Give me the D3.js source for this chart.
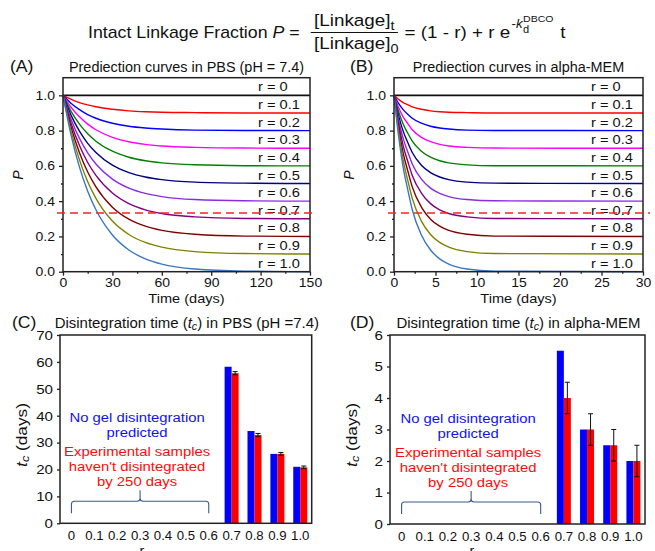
<!DOCTYPE html>
<html>
<head>
<meta charset="utf-8">
<script src="https://cdn.jsdelivr.net/npm/d3@7"></script>
<style>
  body { margin: 0; background: #fff; }
  svg { display: block; }
  text { font-family: "Liberation Sans", Arial, sans-serif; }
</style>
</head>
<body>
<div id="chart"></div>
<script>
// ---- data ----
var rLabels = ["r = 0", "r = 0.1", "r = 0.2", "r = 0.3", "r = 0.4", "r = 0.5",
               "r = 0.6", "r = 0.7", "r = 0.8", "r = 0.9", "r = 1.0"];
var rPlateau = [1.0, 0.9, 0.8, 0.7, 0.6, 0.5, 0.4, 0.3, 0.2, 0.1, 0.0];
var curveColors = ["#111111", "#ff0000", "#0000ff", "#ff00ff", "#008000", "#000080",
                   "#8a2be2", "#800080", "#800000", "#808000", "#3a76c4"];

// sample times (days) for each panel
var pbsTimes = [0, 5, 10, 15, 20, 30, 40, 50, 60, 80, 110, 150];
var memTimes = [0, 0.55, 1.1, 1.7, 2.2, 3.3, 4.4, 5.5, 6.6, 8.8, 12.1, 30];

// P values at those sample points (same shape in both media, one row per r)
var curveP = [
  [1, 1, 1, 1, 1, 1, 1, 1, 1, 1, 1, 1],
  [1, .977, .959, .946, .935, .921, .912, .907, .904, .902, .900, .900],
  [1, .954, .919, .891, .870, .842, .825, .815, .809, .803, .801, .800],
  [1, .931, .878, .837, .805, .762, .737, .722, .713, .705, .701, .700],
  [1, .908, .837, .782, .740, .683, .649, .629, .617, .606, .601, .600],
  [1, .885, .797, .728, .676, .604, .562, .537, .522, .508, .502, .500],
  [1, .862, .756, .674, .611, .525, .474, .444, .426, .409, .402, .400],
  [1, .839, .715, .619, .546, .446, .386, .351, .330, .311, .302, .300],
  [1, .816, .674, .565, .481, .366, .298, .258, .234, .212, .202, .200],
  [1, .793, .634, .510, .416, .287, .211, .166, .139, .114, .103, .100],
  [1, .770, .593, .456, .351, .208, .123, .073, .043, .015, .003, .000]
];
var threshold = 0.333;

var pTicks = [0, 0.2, 0.4, 0.6, 0.8, 1.0];
var pMinor = [0.1, 0.3, 0.5, 0.7, 0.9];
var pbsTicks = [0, 30, 60, 90, 120, 150];
var pbsMinor = [15, 45, 75, 105, 135];
var memTicks = [0, 5, 10, 15, 20, 25, 30];
var memMinor = [2.5, 7.5, 12.5, 17.5, 22.5, 27.5];

var barCategories = ["0", "0.1", "0.2", "0.3", "0.4", "0.5", "0.6", "0.7", "0.8", "0.9", "1.0"];
var pbsPredicted    = [null, null, null, null, null, null, null, 58.2, 34.3, 25.8, 21.0];
var pbsExperimental = [null, null, null, null, null, null, null, 55.8, 32.8, 25.8, 20.8];
var pbsError        = [null, null, null, null, null, null, null, 0.6, 0.6, 0.5, 0.5];
var memPredicted    = [null, null, null, null, null, null, null, 5.5, 3.0, 2.5, 2.0];
var memExperimental = [null, null, null, null, null, null, null, 4.0, 3.0, 2.5, 2.0];
var memError        = [null, null, null, null, null, null, null, 0.5, 0.5, 0.5, 0.5];
var pbsTicksC = [0, 10, 20, 30, 40, 50, 60, 70];
var memTicksD = [0, 1, 2, 3, 4, 5, 6];

var noteBlue = ["No gel disintegration", "predicted"];
var noteRed = ["Experimental samples", "haven't disintegrated", "by 250 days"];

// ---- drawing ----
var svg = d3.select("#chart").append("svg").attr("width", 655).attr("height", 551);

// text with a small horizontal stretch, the figure's lettering is wide
function addText(parent, x, y, str, size, sx, anchor) {
  return parent.append("text")
    .attr("transform", "translate(" + x + "," + y + ") scale(" + sx + ",1)")
    .attr("font-size", size)
    .attr("text-anchor", anchor || "start")
    .style("fill", "#111")
    .text(str);
}

function styleAxis(g, size, sx, gap, vertical) {
  g.select(".domain").remove();
  g.attr("font-family", null).attr("font-size", size);
  g.selectAll("line").attr("stroke", "#222").attr("stroke-width", 1.3);
  g.selectAll("text").attr("fill", "#111").attr("transform", "scale(" + sx + ",1)");
  if (vertical) g.selectAll("text").attr("x", -gap / sx);
}

// ---- header formula ----
var head = svg.append("g").attr("transform", "translate(88,0) scale(1.11,1)");
var h1 = head.append("text").attr("x", 0).attr("y", 38).attr("font-size", 16).style("fill", "#111");
h1.append("tspan").text("Intact Linkage Fraction ");
h1.append("tspan").attr("font-style", "italic").text("P");
h1.append("tspan").text(" =");
var h1w = h1.node().getComputedTextLength();
var num = head.append("text").attr("y", 26).attr("font-size", 17).style("fill", "#111");
num.append("tspan").text("[Linkage]");
num.append("tspan").attr("font-size", 13).attr("dy", 4).text("t");
var numW = num.node().getComputedTextLength();
var barX0 = h1w + 10, barX1 = barX0 + numW + 6;
num.attr("x", barX0 + 3);
var den = head.append("text").attr("x", barX0 + 3).attr("y", 49).attr("font-size", 17).style("fill", "#111");
den.append("tspan").text("[Linkage]");
den.append("tspan").attr("font-size", 13).attr("dy", 4).text("0");
head.append("line").attr("x1", barX0).attr("x2", barX1).attr("y1", 32.5).attr("y2", 32.5)
  .attr("stroke", "#111").attr("stroke-width", 1.2);
var h2 = head.append("text").attr("x", barX1 + 6).attr("y", 38).attr("font-size", 17)
  .style("fill", "#111").text("= (1 - r) + r e");
var h2end = barX1 + 6 + h2.node().getComputedTextLength();
var sup = head.append("text").attr("x", h2end + 1).attr("y", 28).attr("font-size", 12).style("fill", "#111");
sup.append("tspan").text("-");
sup.append("tspan").attr("font-style", "italic").text("k");
var supEnd = h2end + 1 + sup.node().getComputedTextLength();
head.append("text").attr("x", supEnd + 0.5).attr("y", 33).attr("font-size", 10).style("fill", "#111").text("d");
var dbco = head.append("text").attr("x", supEnd + 0.5).attr("y", 22).attr("font-size", 9.5)
  .style("fill", "#111").text("DBCO");
var dbcoEnd = supEnd + 0.5 + dbco.node().getComputedTextLength();
head.append("text").attr("x", dbcoEnd + 6).attr("y", 38).attr("font-size", 17).style("fill", "#111").text("t");

// ---- prediction curve panels ----
function curvePanel(left, right, times, xMax, xTicks, xMinor, letterX, letter, title) {
  var top = 77.7, bottom = 271.7;
  var g = svg.append("g");
  var x = d3.scaleLinear().domain([0, xMax]).range([left, right]);
  var y = d3.scaleLinear().domain([0, 1.1]).range([bottom, top]);
  var line = d3.line()
    .x(function(d) { return x(d[0]); })
    .y(function(d) { return y(d[1]); })
    .curve(d3.curveMonotoneX);

  curveP.forEach(function(ps, i) {
    g.append("path").datum(d3.zip(times, ps))
      .attr("d", line).attr("fill", "none")
      .attr("stroke", curveColors[i]).attr("stroke-width", i === 0 ? 1.6 : 1.4);
  });

  g.append("rect").attr("x", left).attr("y", top)
    .attr("width", right - left).attr("height", bottom - top)
    .attr("fill", "none").attr("stroke", "#222").attr("stroke-width", 1.5);

  g.append("g").attr("transform", "translate(" + left + ",0)")
    .call(d3.axisLeft(y).tickValues(pTicks).tickFormat(d3.format(".1f")).tickSize(4).tickSizeOuter(0))
    .call(styleAxis, 12.5, 1.12, 8, true);
  g.append("g").attr("transform", "translate(" + left + ",0)")
    .call(d3.axisLeft(y).tickValues(pMinor).tickFormat("").tickSize(2).tickSizeOuter(0))
    .call(styleAxis, 12.5, 1, 0, false);
  g.append("g").attr("transform", "translate(0," + bottom + ")")
    .call(d3.axisBottom(x).tickValues(xTicks).tickSize(4).tickPadding(2).tickSizeOuter(0))
    .call(styleAxis, 12.5, 1.12, 0, false);
  g.append("g").attr("transform", "translate(0," + bottom + ")")
    .call(d3.axisBottom(x).tickValues(xMinor).tickFormat("").tickSize(2).tickSizeOuter(0))
    .call(styleAxis, 12.5, 1, 0, false);

  rLabels.forEach(function(lab, i) {
    addText(g, right - 52, y(rPlateau[i]) - 4, lab, 12, 1.22, "start");
  });

  g.append("line").attr("x1", left - 6).attr("x2", right + 7)
    .attr("y1", y(threshold)).attr("y2", y(threshold))
    .attr("stroke", "#ff2020").attr("stroke-width", 1.5).attr("stroke-dasharray", "8,5");

  addText(svg, letterX, 72, letter, 16, 1.1, "start");
  addText(svg, (left + right) / 2, 72, title, 14, 1.03, "middle");
  addText(svg, (left + right) / 2, 302.5, "Time (days)", 13, 1.12, "middle");
  addText(svg, left - 40, 175, "P", 14, 1, "middle")
    .attr("font-style", "italic")
    .attr("transform", "translate(" + (left - 40) + ",175) rotate(-90)");
}

curvePanel(63, 310, pbsTimes, 150, pbsTicks, pbsMinor, 10, "(A)", "Prediection curves in PBS (pH = 7.4)");
curvePanel(394, 643, memTimes, 30, memTicks, memMinor, 350, "(B)", "Prediection curves in alpha-MEM");

// ---- disintegration time bar panels ----
function barPanel(left, right, bottom, yMax, yTicks, pred, expv, err, letterX, letter, titleEnd, rX) {
  var top = 335;
  var g = svg.append("g");
  var x = d3.scaleBand().domain(barCategories).range([left, right]).padding(0);
  var x1 = d3.scaleBand().domain(["pred", "exp"]).range([x.bandwidth() / 2 - 7, x.bandwidth() / 2 + 7]);
  var y = d3.scaleLinear().domain([0, yMax]).range([bottom, top]);

  var rows = barCategories.map(function(c, i) {
    return { cat: c, pred: pred[i], exp: expv[i], err: err[i] };
  }).filter(function(d) { return d.pred !== null; });

  rows.forEach(function(d) {
    g.append("rect").attr("x", x(d.cat) + x1("pred")).attr("width", x1.bandwidth())
      .attr("y", y(d.pred)).attr("height", y(0) - y(d.pred)).attr("fill", "#0000ff");
    g.append("rect").attr("x", x(d.cat) + x1("exp")).attr("width", x1.bandwidth())
      .attr("y", y(d.exp)).attr("height", y(0) - y(d.exp)).attr("fill", "#ff0000");
    var cx = x(d.cat) + x1("exp") + x1.bandwidth() / 2;
    g.append("line").attr("x1", cx).attr("x2", cx)
      .attr("y1", y(d.exp + d.err)).attr("y2", y(d.exp - d.err))
      .attr("stroke", "#111").attr("stroke-width", 1);
    [d.exp + d.err, d.exp - d.err].forEach(function(v) {
      g.append("line").attr("x1", cx - 2.5).attr("x2", cx + 2.5)
        .attr("y1", y(v)).attr("y2", y(v)).attr("stroke", "#111").attr("stroke-width", 1);
    });
  });

  g.append("rect").attr("x", left).attr("y", top)
    .attr("width", right - left).attr("height", bottom - top)
    .attr("fill", "none").attr("stroke", "#222").attr("stroke-width", 1.5);

  g.append("g").attr("transform", "translate(" + left + ",0)")
    .call(d3.axisLeft(y).tickValues(yTicks).tickFormat(d3.format("d")).tickSize(3).tickSizeOuter(0))
    .call(styleAxis, 13.5, 1.12, 7, true);
  g.append("g").attr("transform", "translate(0," + bottom + ")")
    .call(d3.axisBottom(x).tickSize(0).tickPadding(8))
    .call(styleAxis, 12, 1.1, 0, false);

  // brace under the r = 0 .. 0.6 group
  var bx1 = x("0") + x.bandwidth() / 2, bx2 = x("0.6") + x.bandwidth() / 2, bxm = (bx1 + bx2) / 2;
  var yb = bottom - 22;
  var p = d3.path();
  p.moveTo(bx1, bottom - 10);
  p.lineTo(bx1, yb + 3);
  p.quadraticCurveTo(bx1, yb, bx1 + 3, yb);
  p.lineTo(bxm - 3, yb);
  p.quadraticCurveTo(bxm, yb, bxm, yb - 3);
  p.lineTo(bxm, bottom - 33);
  p.moveTo(bxm, yb - 3);
  p.quadraticCurveTo(bxm, yb, bxm + 3, yb);
  p.lineTo(bx2 - 3, yb);
  p.quadraticCurveTo(bx2, yb, bx2, yb + 3);
  p.lineTo(bx2, bottom - 10);
  g.append("path").attr("d", p.toString()).attr("fill", "none")
    .attr("stroke", "#3d5a8a").attr("stroke-width", 1.1);

  noteBlue.forEach(function(s, i) {
    addText(g, bxm - 3, bottom - 101 + i * 14.5, s, 13.5, 1.1, "middle").style("fill", "#1010ff");
  });
  noteRed.forEach(function(s, i) {
    addText(g, bxm - 3, bottom - 67 + i * 14.8, s, 13.5, 1.1, "middle").style("fill", "#ff0a0a");
  });

  addText(svg, letterX, 328, letter, 16, 1.1, "start");
  var t = addText(svg, (left + right) / 2 + 1, 328, "", 14, 1.07, "middle");
  t.append("tspan").text("Disintegration time (");
  t.append("tspan").attr("font-style", "italic").text("t");
  t.append("tspan").attr("font-style", "italic").attr("font-size", 10).attr("dy", 2).text("c");
  t.append("tspan").attr("dy", -2).text(")" + titleEnd);

  var yl = svg.append("text").attr("font-size", 15).attr("text-anchor", "middle").style("fill", "#111")
    .attr("transform", "translate(" + (left - 33) + ",435) rotate(-90) scale(1.15,1)");
  yl.append("tspan").attr("font-style", "italic").text("t");
  yl.append("tspan").attr("font-style", "italic").attr("font-size", 11).attr("dy", 2).text("c");
  yl.append("tspan").attr("dy", -2).text(" (days)");

  // axis title sits at the bottom edge, partly cut off as in the figure
  addText(svg, rX, 555, "r", 13, 1.1, "middle");
}

barPanel(60, 311.7, 523.3, 70, pbsTicksC, pbsPredicted, pbsExperimental, pbsError, 12, "(C)", " in PBS (pH =7.4)", 142);
barPanel(390, 645, 524, 6, memTicksD, memPredicted, memExperimental, memError, 350, "(D)", " in alpha-MEM", 472);
</script>
</body>
</html>
